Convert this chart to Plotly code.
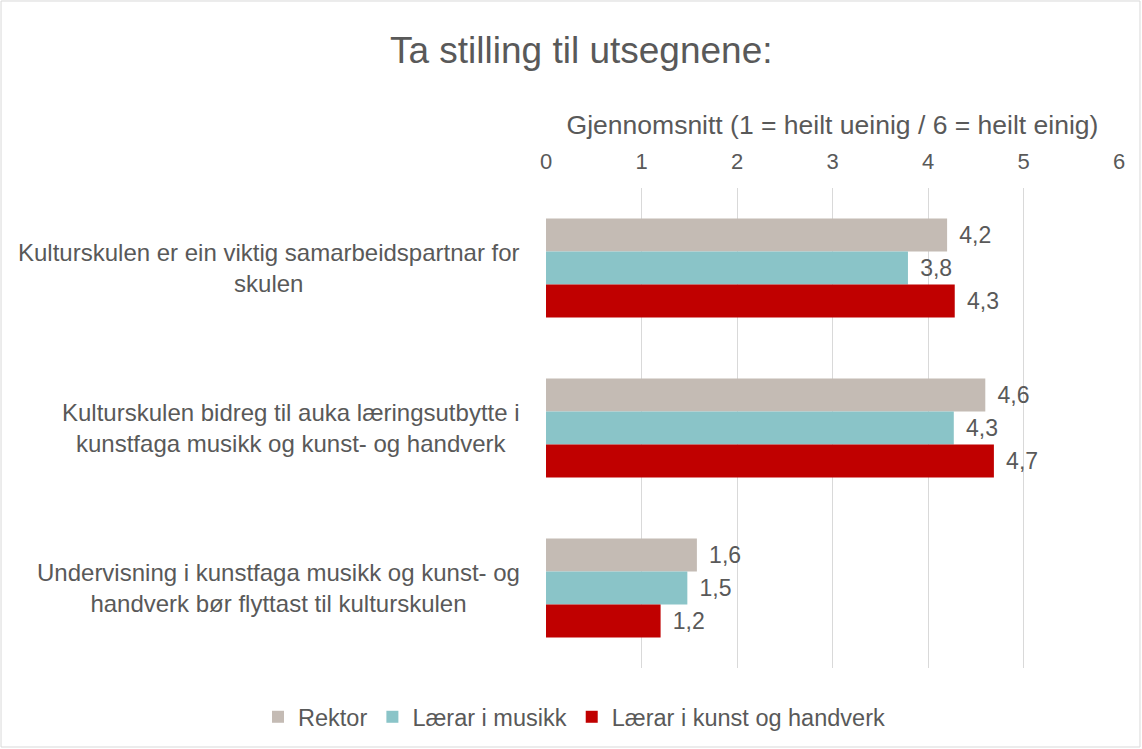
import plotly.graph_objects as go

# Survey statements (y categories)
statements = [
    "Kulturskulen er ein viktig samarbeidspartnar for<br>skulen",
    "Kulturskulen bidreg til auka læringsutbytte i<br>kunstfaga musikk og kunst- og handverk",
    "Undervisning i kunstfaga musikk og kunst- og<br>handverk bør flyttast til kulturskulen",
]

series_names = ["Rektor", "Lærar i musikk", "Lærar i kunst og handverk"]
rektor = [4.20, 4.60, 1.58]
laerar_musikk = [3.79, 4.27, 1.48]
laerar_kunst = [4.28, 4.69, 1.20]

x_ticks = [0, 1, 2, 3, 4, 5, 6]

COLORS = ["#C4BBB4", "#8AC4C8", "#C00000"]
TEXT = "#595959"
FONT = "Arial, Liberation Sans, sans-serif"

fig = go.Figure()
for name, vals, col in zip(series_names, [rektor, laerar_musikk, laerar_kunst], COLORS):
    fig.add_trace(go.Bar(
        name=name,
        y=statements,
        x=vals,
        orientation="h",
        marker=dict(color=col, line=dict(width=0)),
        texttemplate="\u2009\u2009%{x:.1f}",
        textposition="outside",
        textfont=dict(size=23, color=TEXT, family=FONT),
        cliponaxis=False,
    ))

# category labels, centred lines, right edge near axis
for s in statements:
    fig.add_annotation(
        x=0, xref="paper", y=s, yref="y",
        text=s, showarrow=False, xanchor="right", yanchor="middle",
        xshift=-24, align="center",
        font=dict(size=24, color=TEXT, family=FONT),
    )

# outer chart border
fig.add_shape(type="rect", xref="paper", yref="paper",
              x0=-0.9511, x1=1.0366, y0=-0.1646, y1=1.3896,
              line=dict(color="#D9D9D9", width=1), fillcolor="rgba(0,0,0,0)",
              layer="below")

fig.update_layout(
    width=1142, height=749,
    margin=dict(l=546, r=23, t=188, b=81, autoexpand=False),
    paper_bgcolor="white", plot_bgcolor="white",
    separators=", ",
    barmode="group", bargap=0.38, bargroupgap=0,
    font=dict(family=FONT, color=TEXT, size=18),
    title=dict(text="Ta stilling til utsegnene:", x=0.509, xanchor="center",
               xref="container", y=0.933, yanchor="middle", yref="container",
               font=dict(size=37, color=TEXT, family=FONT)),
    xaxis=dict(
        side="top", range=[0, 6], tickvals=x_ticks,
        showgrid=True, gridcolor="#D9D9D9", gridwidth=1,
        zeroline=False, showline=False, ticks="",
        ticklabelstandoff=14,
        tickfont=dict(size=22, color=TEXT),
        title=dict(text="Gjennomsnitt (1 = heilt ueinig / 6 = heilt einig)",
                   font=dict(size=26.5, color=TEXT), standoff=6),
    ),
    yaxis=dict(
        autorange="reversed", showticklabels=False, showgrid=False,
        zeroline=False, showline=False, ticks="",
    ),
    legend=dict(
        orientation="h", x=(258 - 546) / 573, xanchor="left", xref="paper",
        y=(668 - 717) / 480, yanchor="middle", yref="paper",
        font=dict(size=23.5, color=TEXT), traceorder="normal",
        itemclick=False,
    ),
)

fig.write_html("out.html", config={"displayModeBar": False},
               post_script="document.body.style.margin='0';")
